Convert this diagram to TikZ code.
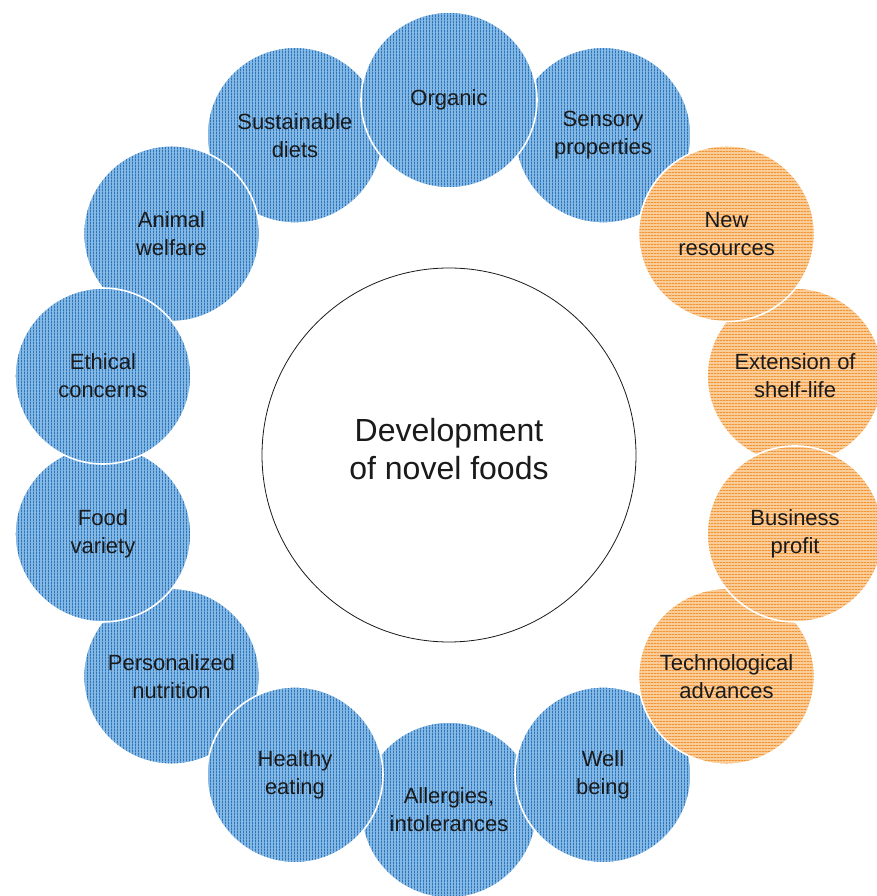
\documentclass[tikz,border=0pt]{standalone}
\usepackage{fontspec}
\setmainfont{Liberation Sans}
\usetikzlibrary{patterns.meta,calc}
\definecolor{ink}{HTML}{1A1A1A}
\definecolor{ringblue}{HTML}{86B8E4}
\definecolor{stripeblue}{HTML}{2A75BE}
\definecolor{ringorange}{HTML}{FACC98}
\definecolor{stripeorange}{HTML}{F29433}

% thin stripes for the two groups of drivers
\tikzdeclarepattern{name=vbars,type=uncolored,
  bounding box={(0,0) and (3pt,3pt)},tile size={(3pt,3pt)},
  code={\fill (0,0) rectangle (1pt,3pt);}}
\tikzdeclarepattern{name=hbars,type=uncolored,
  bounding box={(0,0) and (3pt,3pt)},tile size={(3pt,3pt)},
  code={\fill (0,0) rectangle (3pt,1pt);}}

\begin{document}
\begin{tikzpicture}[x=1pt,y=1pt,font=\fontsize{22}{28}\selectfont,
 topic/.style={circle,minimum size=176pt,inner sep=0pt,draw=white,line width=1.6pt,align=center,text=ink},
 consumer/.style={topic,preaction={fill=ringblue},pattern=vbars,pattern color=stripeblue},
 industry/.style={topic,preaction={fill=ringorange},pattern=hbars,pattern color=stripeorange},
 hub/.style={circle,draw=ink,line width=0.8pt,fill=white,minimum size=374pt,inner sep=0pt}]
\useasboundingbox (0,0) rectangle (877,896);
\node[hub] (core) at (449,441) {};
\node[align=center,text=ink,font=\fontsize{32}{38}\selectfont] (title) at ([yshift=6pt]core) {Development\\of novel foods};
% slot 0 is at the top, counted clockwise; listed bottom layer first
\foreach \slot/\name/\txt/\kind in {
  13/diets/{Sustainable\\diets}/consumer,
  1/sensory/{Sensory\\properties}/consumer,
  3/shelflife/{Extension of\\shelf-life}/industry,
  7/allergies/{Allergies,\\intolerances}/consumer,
  9/personal/{Personalized\\nutrition}/consumer,
  6/wellbeing/{Well\\being}/consumer,
  0/organic/Organic/consumer,
  2/resources/{New\\resources}/industry,
  12/welfare/{Animal\\welfare}/consumer,
  10/variety/{Food\\variety}/consumer,
  8/healthy/{Healthy\\eating}/consumer,
  5/techno/{Technological\\advances}/industry,
  4/profit/{Business\\profit}/industry,
  11/ethics/{Ethical\\concerns}/consumer}
  \node[\kind] (\name) at ($(core)+({90-\slot*360/14}:355)$) {\txt};
\end{tikzpicture}
\end{document}
